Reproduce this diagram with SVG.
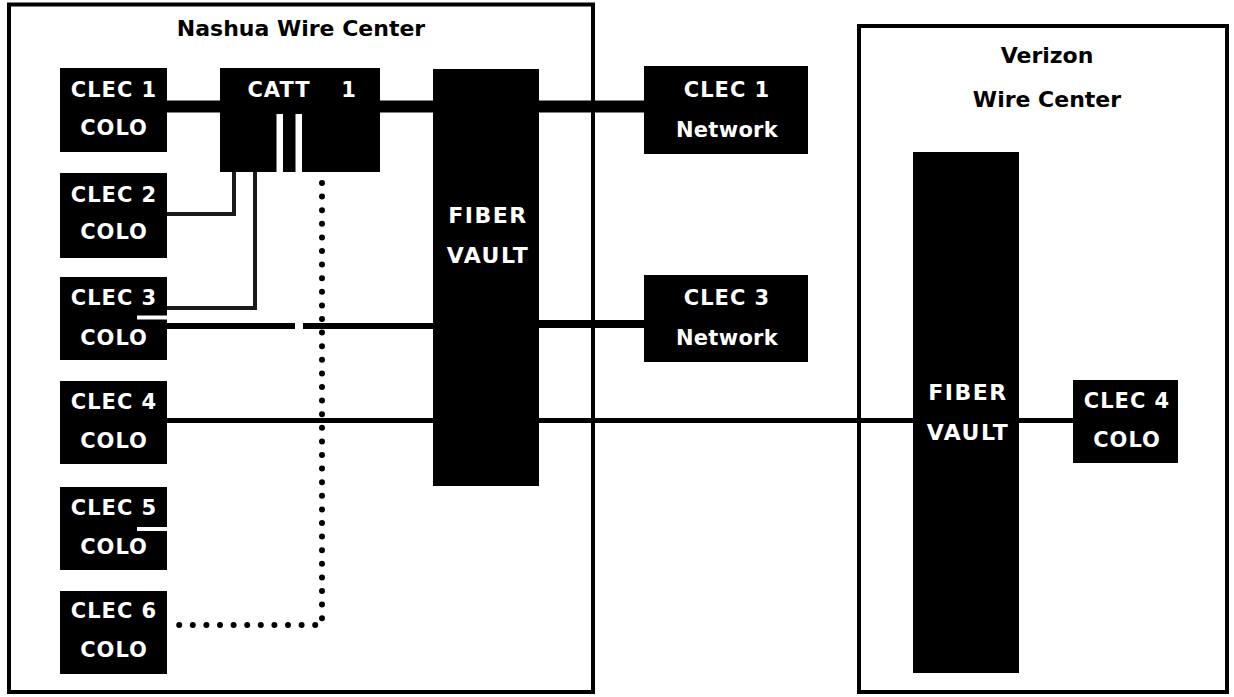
<svg xmlns="http://www.w3.org/2000/svg" width="1234" height="697" viewBox="0 0 1234 697">
<style>
  .frame{fill:#fff;stroke:#000;stroke-width:4}
  .box{fill:#000}
  .lbl{font-family:"DejaVu Sans","Liberation Sans",sans-serif;font-weight:bold;font-size:21px;fill:#fff;text-anchor:middle;letter-spacing:1px}
  .vlbl{font-size:22px;letter-spacing:1.5px}
  .net{letter-spacing:0.3px}
  .ttl{font-family:"DejaVu Sans","Liberation Sans",sans-serif;font-weight:bold;font-size:22px;fill:#000;text-anchor:middle}
  .ln{stroke:#000;fill:none}
  .thin{stroke:#1a1a1a;fill:none;stroke-width:4}
  .dots{stroke:#000;fill:none;stroke-width:6;stroke-linecap:round;stroke-dasharray:0 13.6}
  .notch{stroke:#fff;stroke-width:4}
</style>
<rect width="1234" height="697" fill="#fff"/>
<g id="nashua-wire-center">
  <rect class="frame" x="9" y="4.5" width="584" height="687.5"/>
  <text class="ttl" x="301" y="36">Nashua Wire Center</text>
</g>
<g id="verizon-wire-center">
  <rect class="frame" x="859" y="26" width="368" height="666"/>
  <text class="ttl" x="1047" y="63">Verizon</text>
  <text class="ttl" x="1047" y="107">Wire Center</text>
</g>
<g id="connectors">
  <line class="ln" x1="167" y1="106.5" x2="220" y2="106.5" stroke-width="12"/>
  <line class="ln" x1="380" y1="106.5" x2="433" y2="106.5" stroke-width="12"/>
  <line class="ln" x1="539" y1="106.5" x2="644" y2="106.5" stroke-width="12"/>
  <path class="thin" d="M167,214 H234 V172"/>
  <line x1="130" y1="214" x2="167" y2="214" stroke="#999" stroke-width="1.5" stroke-dasharray="2 2"/>
  <path class="thin" d="M167,308 H255 V172"/>
  <path class="ln" d="M167,326 H295 M303,326 H433" stroke-width="6"/>
  <line class="ln" x1="539" y1="324" x2="644" y2="324" stroke-width="8"/>
  <line class="ln" x1="167" y1="420.5" x2="1073" y2="420.5" stroke-width="5"/>
  <path class="dots" d="M322,183 V625 H172"/>
</g>
<g id="clec1-colo">
  <rect class="box" x="60" y="68" width="107" height="84"/>
  <text class="lbl" x="114" y="97">CLEC 1</text>
  <text class="lbl" x="114" y="135">COLO</text>
</g>
<g id="catt1">
  <rect class="box" x="220" y="68" width="160" height="104"/>
  <rect fill="#fff" x="276.5" y="114" width="6.5" height="58"/>
  <rect fill="#fff" x="295.5" y="114" width="6.5" height="58"/>
  <text class="lbl" x="279" y="97">CATT</text>
  <text class="lbl" x="349" y="97">1</text>
</g>
<g id="clec2-colo">
  <rect class="box" x="60" y="173" width="107" height="85"/>
  <text class="lbl" x="114" y="202">CLEC 2</text>
  <text class="lbl" x="114" y="239">COLO</text>
</g>
<g id="clec3-colo">
  <rect class="box" x="60" y="277" width="107" height="83"/>
  <text class="lbl" x="114" y="305">CLEC 3</text>
  <text class="lbl" x="114" y="345">COLO</text>
  <line class="notch" x1="137" y1="317.5" x2="167" y2="317.5"/>
</g>
<g id="clec4-colo">
  <rect class="box" x="60" y="381" width="107" height="83"/>
  <text class="lbl" x="114" y="409">CLEC 4</text>
  <text class="lbl" x="114" y="448">COLO</text>
</g>
<g id="clec5-colo">
  <rect class="box" x="60" y="487" width="107" height="83"/>
  <text class="lbl" x="114" y="515">CLEC 5</text>
  <text class="lbl" x="114" y="554">COLO</text>
  <line class="notch" x1="137" y1="529" x2="167" y2="529"/>
</g>
<g id="clec6-colo">
  <rect class="box" x="60" y="591" width="107" height="83"/>
  <text class="lbl" x="114" y="618">CLEC 6</text>
  <text class="lbl" x="114" y="657">COLO</text>
</g>
<g id="fiber-vault-nashua">
  <rect class="box" x="433" y="69" width="106" height="417"/>
  <text class="lbl vlbl" x="488" y="223">FIBER</text>
  <text class="lbl vlbl" x="488" y="263">VAULT</text>
</g>
<g id="clec1-network">
  <rect class="box" x="644" y="66" width="164" height="88"/>
  <text class="lbl" x="727" y="97">CLEC 1</text>
  <text class="lbl net" x="727" y="137">Network</text>
</g>
<g id="clec3-network">
  <rect class="box" x="644" y="275" width="164" height="87"/>
  <text class="lbl" x="727" y="305">CLEC 3</text>
  <text class="lbl net" x="727" y="345">Network</text>
</g>
<g id="fiber-vault-verizon">
  <rect class="box" x="913" y="152" width="106" height="521"/>
  <text class="lbl vlbl" x="968" y="400">FIBER</text>
  <text class="lbl vlbl" x="968" y="440">VAULT</text>
  <line class="ln" x1="913" y1="420.5" x2="1019" y2="420.5" stroke-width="5"/>
</g>
<g id="clec4-colo-verizon">
  <rect class="box" x="1073" y="380" width="105" height="83"/>
  <text class="lbl" x="1127" y="408">CLEC 4</text>
  <text class="lbl" x="1127" y="447">COLO</text>
</g>
</svg>
